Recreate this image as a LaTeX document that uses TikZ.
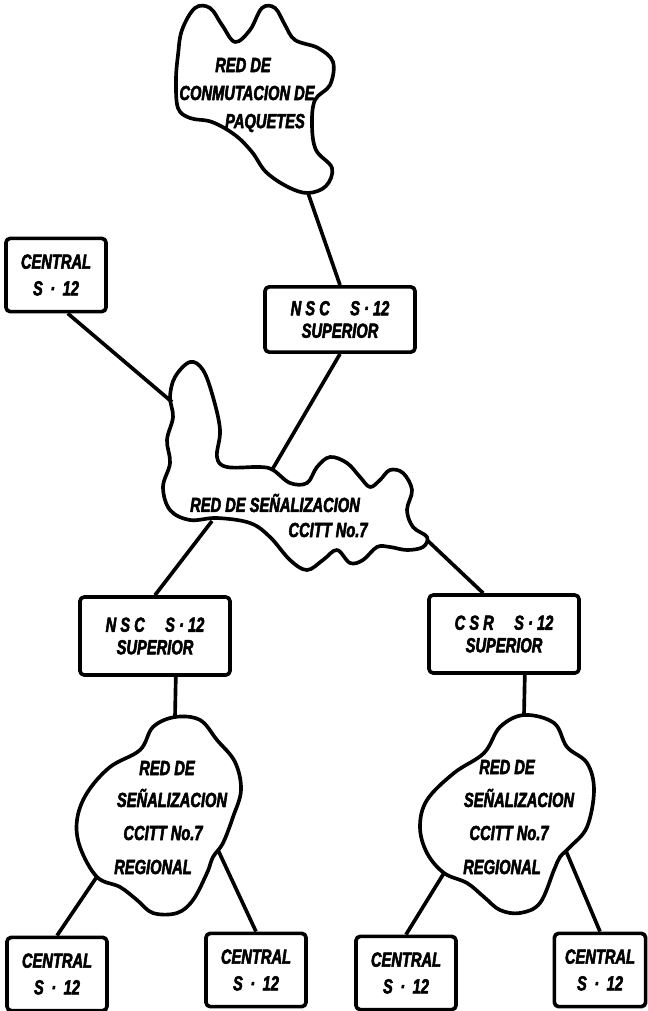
\documentclass[tikz,border=0pt]{standalone}
\usepackage{fontspec}
\newfontfamily\rotulo{Liberation Sans}[UprightFont={* Bold Italic}, FakeStretch=0.72, FakeBold=2.6]
\usetikzlibrary{positioning}

\begin{document}
\begin{tikzpicture}[x=0.025cm, y=-0.025cm, line join=round]
				\tikzstyle{letra} = [font=\rotulo\fontsize{14.5}{16}\selectfont]
				\tikzstyle{caja} = [letra, draw=black, line width=2.6pt, rounded corners=3pt, align=center, inner sep=0pt]
				\tikzstyle{central} = [caja, minimum width=2.5cm, minimum height=1.83cm]
				\tikzstyle{superior} = [caja, minimum width=3.75cm, minimum height=1.95cm]
				\tikzstyle{invis} = [letra, draw=none, inner sep=0pt]
				\tikzstyle{nube} = [line width=2.6pt]
				\tikzstyle{linea} = [line width=2.6pt]
				
				\useasboundingbox (0,0) rectangle (647,1011);
				
				% nubes
				\draw[nube] plot[smooth cycle, tension=0.6] coordinates {(182,30) (195,8) (210,8) (222,25) (235,42) (250,30) (262,8) (275,8) (285,25) (295,40) (318,48) (333,62) (330,85) (315,100) (312,125) (316,150) (332,168) (326,186) (308,193) (288,187) (266,172) (252,152) (235,135) (212,122) (190,118) (178,108) (176,80) (178,55)};
				\draw[nube] plot[smooth cycle, tension=0.6] coordinates {(190,362) (203,370) (213,397) (220,430) (217,457) (227,467) (260,467) (273,470) (290,483) (307,483) (317,467) (330,457) (347,463) (360,477) (370,487) (380,480) (390,470) (403,473) (412,490) (407,510) (413,527) (427,537) (423,547) (407,550) (390,547) (377,547) (363,560) (350,563) (337,550) (323,560) (307,570) (290,560) (270,537) (250,523) (217,518) (190,520) (170,510) (163,487) (170,463) (167,440) (173,417) (170,397) (175,377)};
				\draw[nube] plot[smooth cycle, tension=0.6] coordinates {(175,717) (200,720) (217,740) (235,762) (241,790) (233,817) (223,843) (213,857) (207,873) (193,900) (177,913) (153,913) (137,900) (120,887) (97,877) (80,847) (77,820) (87,793) (110,767) (140,750) (153,727)};
				\draw[nube] plot[smooth cycle, tension=0.6] coordinates {(524,715) (554,723) (567,747) (587,763) (594,790) (587,827) (570,847) (560,857) (554,870) (540,903) (520,913) (500,910) (484,897) (467,883) (444,873) (427,853) (420,827) (427,800) (454,773) (484,753) (500,727)};
				
				\coordinate (paqS) at (308,193);
				\coordinate (senN) at (272,470);
				\coordinate (senW) at (172,402);
				\coordinate (senSW) at (212,521);
				\coordinate (senE) at (427,540);
				\coordinate (regAN) at (175,717);
				\coordinate (regASW) at (96,878);
				\coordinate (regASE) at (218,850);
				\coordinate (regBN) at (524,715);
				\coordinate (regBSW) at (444,873);
				\coordinate (regBSE) at (566,851);
				
				\node[invis] 	at (243, 65) 	(paq1) 	{RED DE};
				\node[invis] 	at (247, 93) 	(paq2) 	{CONMUTACION DE};
				\node[invis] 	at (265, 123) 	(paq3) 	{PAQUETES};
				\node[invis] 	at (275, 503) 	(sen1) 	{RED DE SEÑALIZACION};
				\node[invis] 	at (328, 530) 	(sen2) 	{CCITT No.7};
				\node[invis] 	at (167, 768) 	(regA1) {RED DE};
				\node[invis] 	at (172, 798) 	(regA2) {SEÑALIZACION};
				\node[invis] 	at (163, 833) 	(regA3) {CCITT No.7};
				\node[invis] 	at (153, 867) 	(regA4) {REGIONAL};
				\node[invis] 	at (507, 767) 	(regB1) {RED DE};
				\node[invis] 	at (519, 798) 	(regB2) {SEÑALIZACION};
				\node[invis] 	at (509, 833) 	(regB3) {CCITT No.7};
				\node[invis] 	at (502, 867) 	(regB4) {REGIONAL};
				
				% cajas
				\node[central] 	at (56, 275) 	(cent0) {CENTRAL\\[3pt]S \,·\, 12};
				\node[superior, minimum height=1.63cm] at (340, 319.5) (nscSup) {N S C\quad S · 12\\SUPERIOR};
				\node[superior] at (155, 636) 	(nscInf) {N S C\quad S · 12\\SUPERIOR};
				\node[superior] at (504, 634) 	(csrSup) {C S R\quad S · 12\\SUPERIOR};
				\node[central] 	at (57, 974) 	(cent1) {CENTRAL\\[3pt]S \,·\, 12};
				\node[central] 	at (256, 970) 	(cent2) {CENTRAL\\[3pt]S \,·\, 12};
				\node[central] 	at (406, 973) 	(cent3) {CENTRAL\\[3pt]S \,·\, 12};
				\node[central, minimum width=2.28cm] at (600, 970) (cent4) {CENTRAL\\[3pt]S \,·\, 12};
				
				\path[linea]
				(paqS)		edge	(nscSup.north)
				(nscSup.south)	edge	(senN)
				(cent0.-73)	edge	(senW)
				(senSW)		edge	(nscInf.north)
				(senE)		edge	(csrSup.117)
				(nscInf.-63)	edge	(regAN)
				(csrSup.-63)	edge	(regBN)
				(regASW)	edge	(cent1.north)
				(regASE)	edge	(cent2.north)
				(regBSW)	edge	(cent3.north)
				(regBSE)	edge	(cent4.north);
\end{tikzpicture}
\end{document}
